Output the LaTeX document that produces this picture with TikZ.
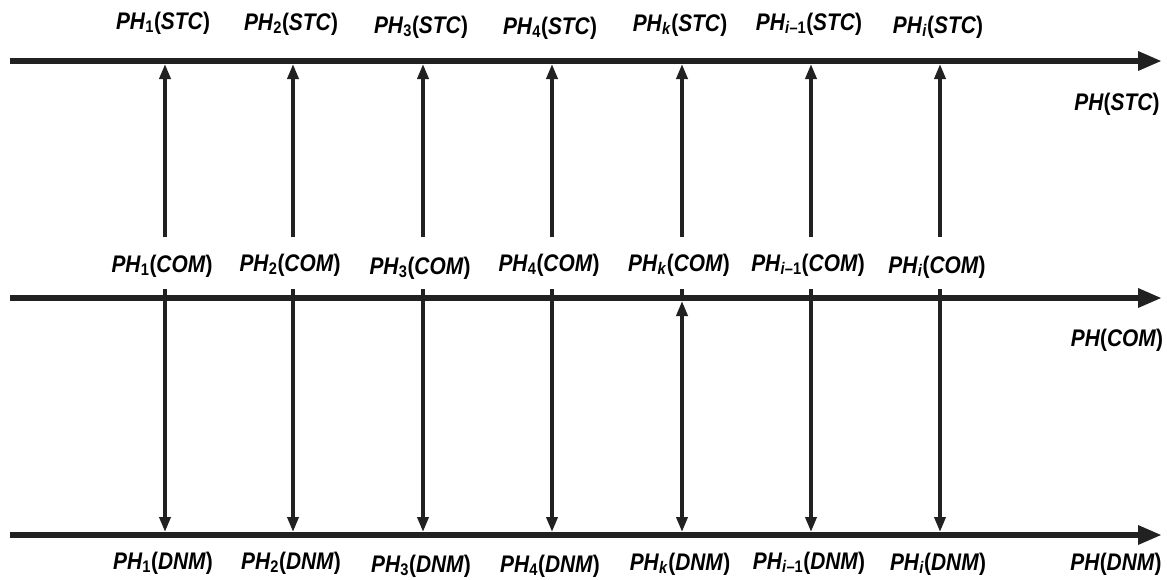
\documentclass[tikz,border=0pt]{standalone}
\usepackage{fontspec}
\setmainfont{Liberation Sans}[FakeStretch=0.87]
\usetikzlibrary{arrows.meta}
\newcommand\phlab[2]{\textbf{\textit{PH}\textsubscript{#1}(\textit{#2})}}
\begin{document}
\begin{tikzpicture}[x=1pt,y=-1pt,
  axis/.style={line width=6pt,draw=black!87,-{Triangle[length=24pt,width=18pt]}},
  conn/.style={line width=3.6pt,draw=black!87},
  up/.style={conn,-{Triangle[length=15pt,width=11pt]}},
  lab/.style={font=\fontsize{24}{24}\selectfont,inner sep=0pt,text=black}]
\useasboundingbox (0,0) rectangle (1167,579);
% axes
\coordinate (aS0) at (10,61); \coordinate (aS1) at (1162,61);
\coordinate (aC0) at (10,298); \coordinate (aC1) at (1162,298);
\coordinate (aD0) at (10,535); \coordinate (aD1) at (1162,535);
\draw[axis] (aS0) -- (aS1);
\draw[axis] (aC0) -- (aC1);
\draw[axis] (aD0) -- (aD1);
% axis labels
\node[lab] (nS) at (1117,104) {\textbf{\textit{PH}(\textit{STC})}};
\node[lab] (nC) at (1117,340) {\textbf{\textit{PH}(\textit{COM})}};
\node[lab] (nD) at (1116,564) {\textbf{\textit{PH}(\textit{DNM})}};
% columns
\foreach \i/\x/\sub/\ys/\yc/\yd in {
  1/165/1/23/266/563,
  2/293/2/24/265/563,
  3/423/3/27/268/566,
  4/552/4/28/265/566,
  5/682/\textit{k}/25/265/564,
  6/811/\textit{i}\textendash1/24/265/563,
  7/940/\textit{i}/27/267/564}{
  \coordinate (b\i) at (\x,237);
  \coordinate (t\i) at (\x,64);
  \coordinate (m\i) at (\x,289);
  \coordinate (d\i) at (\x,532);
  \node[lab] (ls\i) at (\x-2,\ys) {\phlab{\sub}{STC}};
  \node[lab] (lc\i) at (\x-3,\yc) {\phlab{\sub}{COM}};
  \node[lab] (ld\i) at (\x-2,\yd) {\phlab{\sub}{DNM}};
  \draw[up] (b\i) -- (t\i);
}
\foreach \i in {1,2,3,4,6,7}{
  \draw[conn,-{Triangle[length=15pt,width=11pt]}] (m\i) -- (d\i);
}
\coordinate (m5b) at (682,301);
\draw[conn] (m5) -- (m5b);
\draw[conn,{Triangle[length=15pt,width=11pt]}-{Triangle[length=15pt,width=11pt]}] (m5b) -- (d5);
\end{tikzpicture}
\end{document}
